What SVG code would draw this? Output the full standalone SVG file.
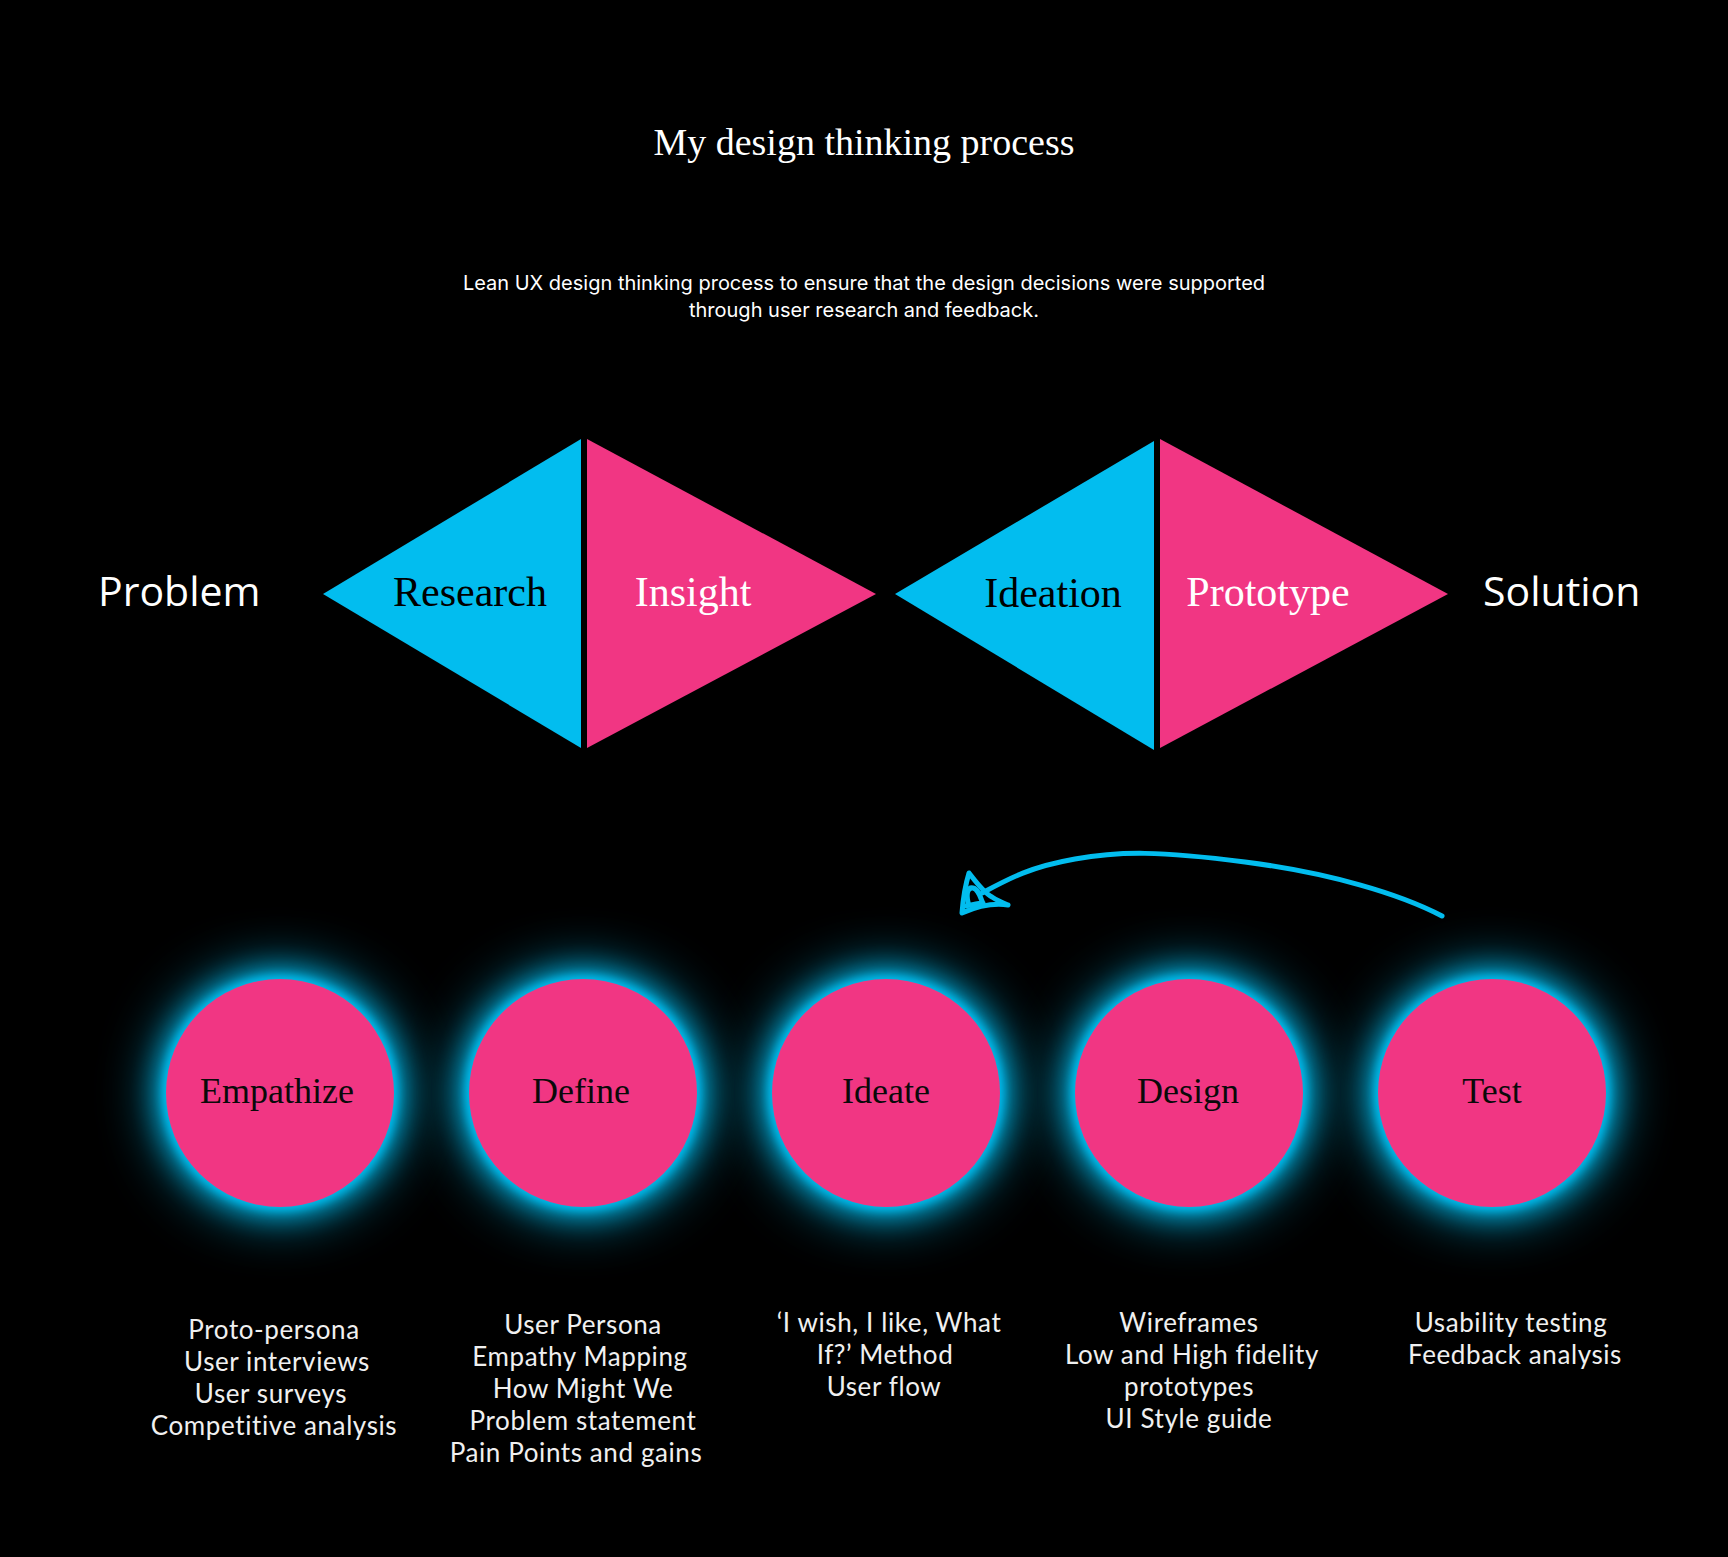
<svg xmlns="http://www.w3.org/2000/svg" width="1728" height="1557" viewBox="0 0 1728 1557">
  <style>
    .title { font-family: "Liberation Serif", "DejaVu Serif", serif; font-size: 38px; fill: #ffffff; }
    .sub { font-family: Inter, "Liberation Sans", sans-serif; font-size: 20px; fill: #ffffff; }
    .side { font-family: "Open Sans", "Liberation Sans", sans-serif; font-size: 41px; fill: #ffffff; }
    .tri { font-family: "Liberation Serif", "DejaVu Serif", serif; font-size: 42px; }
    .dark { fill: #000000; }
    .light { fill: #ffffff; }
    .cyan { fill: #02bdef; }
    .pink { fill: #f13683; }
    .step { font-family: "Liberation Serif", "DejaVu Serif", serif; font-size: 36px; fill: #0a0a0a; text-anchor: middle; }
    .notes { font-family: Lato, "Open Sans", sans-serif; font-size: 26px; letter-spacing: 0.6px; fill: #f0f0f0; text-anchor: middle; }
    .arrow { fill: none; stroke: #02bdef; stroke-width: 5; stroke-linecap: round; stroke-linejoin: round; }
  </style>
  <defs>
    <!-- soft cyan halo behind each step circle -->
    <filter id="glow" x="-70%" y="-70%" width="240%" height="240%">
      <feGaussianBlur in="SourceGraphic" stdDeviation="30" result="far"/>
      <feGaussianBlur in="SourceGraphic" stdDeviation="15" result="mid"/>
      <feGaussianBlur in="SourceGraphic" stdDeviation="5" result="near"/>
      <feMerge>
        <feMergeNode in="far"/>
        <feMergeNode in="mid"/>
        <feMergeNode in="near"/>
      </feMerge>
    </filter>
  </defs>

  <rect x="0" y="0" width="1728" height="1557" fill="#000000"/>

  <!-- heading -->
  <g id="heading">
    <text class="title" x="864" y="155" text-anchor="middle">My design thinking process</text>
    <text class="sub" x="864" y="290" text-anchor="middle">Lean UX design thinking process to ensure that the design decisions were supported</text>
    <text class="sub" x="864" y="317" text-anchor="middle">through user research and feedback.</text>
  </g>

  <!-- double diamond -->
  <g id="problem">
    <text class="side" x="98" y="606">Problem</text>
  </g>
  <g id="research">
    <polygon class="cyan" points="323,594 581,439 581,748"/>
    <text class="tri dark" x="470" y="606" text-anchor="middle">Research</text>
  </g>
  <g id="insight">
    <polygon class="pink" points="587,439 587,748 876,594"/>
    <text class="tri light" x="693" y="606" text-anchor="middle">Insight</text>
  </g>
  <g id="ideation">
    <polygon class="cyan" points="895,594 1154,441 1154,750"/>
    <text class="tri dark" x="1053" y="607" text-anchor="middle">Ideation</text>
  </g>
  <g id="prototype">
    <polygon class="pink" points="1160,439 1160,748 1448,594"/>
    <text class="tri light" x="1268" y="606" text-anchor="middle">Prototype</text>
  </g>
  <g id="solution">
    <text class="side" x="1483" y="606">Solution</text>
  </g>

  <!-- hand-drawn feedback loop arrow -->
  <g id="connectors">
    <path class="arrow" d="M1442,916 C1400,894 1330,873 1245,862 S1120,851 1075,859 S1010,878 982,893"/>
    <path class="arrow" d="M1008,905 C994,903 978,906 962,913 C963,900 965,886 969,873 C976,882 984,893 992,897 C998,901 1003,903 1008,905"/>
    <path class="arrow" d="M968,902 C966,893 968,887 973,888 C978,889 980,896 982,901 M966,906 C972,905 978,903 983,903"/>
  </g>

  <!-- process steps -->
  <g id="empathize">
    <circle class="cyan" cx="280" cy="1093" r="117" filter="url(#glow)"/>
    <circle class="pink" cx="280" cy="1093" r="114"/>
    <text class="step" x="277" y="1103">Empathize</text>
  </g>
  <g id="define">
    <circle class="cyan" cx="583" cy="1093" r="117" filter="url(#glow)"/>
    <circle class="pink" cx="583" cy="1093" r="114"/>
    <text class="step" x="581" y="1103">Define</text>
  </g>
  <g id="ideate">
    <circle class="cyan" cx="886" cy="1093" r="117" filter="url(#glow)"/>
    <circle class="pink" cx="886" cy="1093" r="114"/>
    <text class="step" x="886" y="1103">Ideate</text>
  </g>
  <g id="design">
    <circle class="cyan" cx="1189" cy="1093" r="117" filter="url(#glow)"/>
    <circle class="pink" cx="1189" cy="1093" r="114"/>
    <text class="step" x="1188" y="1103">Design</text>
  </g>
  <g id="test">
    <circle class="cyan" cx="1492" cy="1093" r="117" filter="url(#glow)"/>
    <circle class="pink" cx="1492" cy="1093" r="114"/>
    <text class="step" x="1492" y="1103">Test</text>
  </g>

  <!-- methods under each step -->
  <g id="empathize-methods">
    <text class="notes" x="274" y="1339">Proto-persona</text>
    <text class="notes" x="277" y="1371">User interviews</text>
    <text class="notes" x="271" y="1403">User surveys</text>
    <text class="notes" x="274" y="1435">Competitive analysis</text>
  </g>
  <g id="define-methods">
    <text class="notes" x="583" y="1334">User Persona</text>
    <text class="notes" x="580" y="1366">Empathy Mapping</text>
    <text class="notes" x="583" y="1398">How Might We</text>
    <text class="notes" x="583" y="1430">Problem statement</text>
    <text class="notes" x="576" y="1462">Pain Points and gains</text>
  </g>
  <g id="ideate-methods">
    <text class="notes" x="889" y="1332">‘I wish, I like, What</text>
    <text class="notes" x="885" y="1364">If?’ Method</text>
    <text class="notes" x="884" y="1396">User flow</text>
  </g>
  <g id="design-methods">
    <text class="notes" x="1189" y="1332">Wireframes</text>
    <text class="notes" x="1192" y="1364">Low and High fidelity</text>
    <text class="notes" x="1189" y="1396">prototypes</text>
    <text class="notes" x="1189" y="1428">UI Style guide</text>
  </g>
  <g id="test-methods">
    <text class="notes" x="1511" y="1332">Usability testing</text>
    <text class="notes" x="1515" y="1364">Feedback analysis</text>
  </g>
</svg>
